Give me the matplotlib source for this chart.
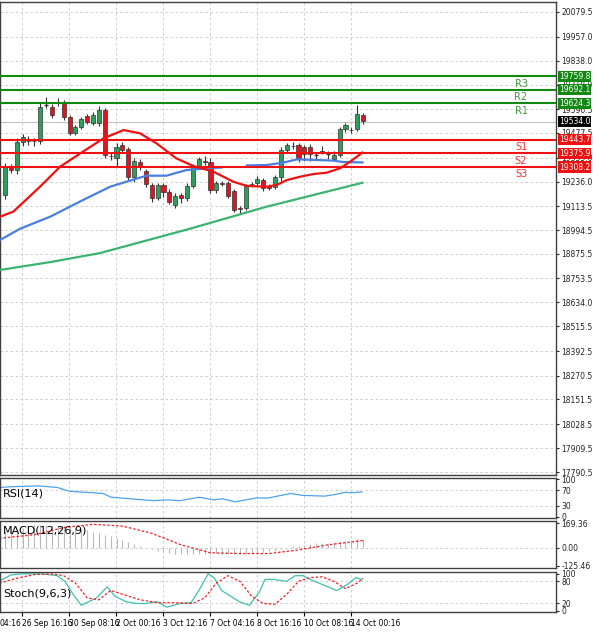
import matplotlib
matplotlib.use("Agg")
import matplotlib.pyplot as plt
import numpy as np

opens = [19168.9,19309.8,19293.2,19434.2,19437,19440,19437.6,19615,19608.4,19626,19628.3,19558.6,19479.0,19508.9,19562.0,19528.8,19528.8,19591.8,19364,19351.3,19417.7,19396.1,19260.1,19334.7,19289.9,19218.6,19152.2,19218.6,19185.4,19119.1,19168.9,19152.2,19213.6,19313.2,19336,19334.7,19193.7,19228,19226.9,19190.4,19104,19102.5,19225,19226.9,19243.5,19213.6,19210.3,19256.8,19392.8,19414,19417.7,19409.4,19409.4,19369,19386,19374,19346.3,19367.9,19495.6,19494,19495.6,19565.3]
closes = [19309.8,19293.2,19434.2,19459.1,19440,19436,19608.4,19617,19566.9,19630,19558.6,19479.0,19508.9,19545.4,19533.8,19566.9,19591.8,19367.9,19361,19409.4,19392.8,19260.1,19339.7,19309.8,19223.6,19152.2,19218.6,19185.4,19135.7,19163.9,19152.2,19213.6,19313.2,19346.3,19333,19193.7,19226.9,19225,19163.9,19094.2,19101,19213.6,19222,19246.8,19202.0,19202.0,19256.8,19392.8,19417.7,19411,19351.3,19372.9,19372.9,19367,19383,19372,19367.9,19495.6,19517.2,19491,19570.2,19537.1]
wick_up = [20,15,20,15,20,15,25,40,15,20,12,10,10,12,10,15,20,12,15,20,15,10,12,15,10,10,12,10,12,15,12,15,12,12,25,20,12,10,12,10,12,12,10,15,10,12,12,15,12,20,10,10,15,12,25,15,20,10,12,15,45,12]
wick_dn = [20,15,20,20,20,25,15,15,15,15,15,10,10,12,10,12,15,15,20,45,15,15,25,15,15,20,10,25,12,15,25,12,10,12,15,15,15,12,10,12,25,10,12,12,12,10,12,20,15,12,20,35,35,20,10,25,10,12,12,15,10,15]

red_x = [-0.85,1.42,5.96,9.4,13.3,16.8,20.2,23,25.8,29.2,32.1,35.5,38.9,41.2,44.6,46.3,48,50.3,52.5,54.8,57.1,58.8,60.9]
red_y = [19061,19086,19210,19310,19385,19451,19492,19476,19426,19351,19313,19285,19235,19214,19210,19219,19243,19260,19273,19280,19302,19335,19380]
blue_x = [-0.85,2.56,7.7,13.3,17.9,20.7,24.1,27.5,30.9,34.4,36.9]
blue_y = [18945,19001,19061,19144,19210,19235,19265,19265,19293,19302,19306]
blue2_x = [41.2,44.6,47.4,49.7,53.1,55.9,57.6,60.9]
blue2_y = [19316,19318,19330,19346,19343,19340,19333,19331]
green_x = [-0.85,7.7,16.2,31.5,44.6,60.9]
green_y = [18796,18835,18880,19001,19111,19230]

levels = [19759.8,19692.1,19624.3,19443.7,19375.9,19308.2]
level_names = ["R3","R2","R1","S1","S2","S3"]
last_price = 19534.0
yticks = [20079.5,19957.0,19838.0,19718.0,19596.5,19477.5,19355.0,19236.0,19113.5,18994.5,18875.5,18753.5,18634.0,18515.5,18392.5,18270.5,18151.5,18028.5,17909.5,17790.5]

rsi_x = [-0.85,1.1,5.7,8.9,10.9,16.7,18.1,21.3,25.2,27.8,29.8,33.1,35.6,37,39.2,42.8,44.8,47.4,48.7,50.6,54.5,56.5,57.8,59.1,60.8]
rsi_y = [78,80,82,78,68,62,52,48,43,45,43,52,45,48,40,50,50,58,62,57,55,60,65,64,66]

macd_hist = [110,120,130,140,150,155,160,160,158,155,150,145,140,130,120,110,100,90,80,70,55,40,25,10,0,-10,-20,-28,-35,-40,-42,-44,-45,-45,-44,-40,-38,-40,-42,-45,-46,-44,-40,-35,-30,-25,-20,-10,0,10,15,20,25,30,32,35,38,45,50,55,60,62]
sig_x = [-1,5,10,15,20,25,30,35,40,45,50,55,61]
sig_y = [65,90,140,162,150,100,20,-35,-40,-40,-15,20,50]

st_x = [-1,1,3,6.3,8.9,10.2,11.6,13,15.6,17.4,18.7,20.6,22.4,24,25.9,27.6,29.8,31.7,33.2,34.6,35.6,36.9,39.9,41.6,43.3,44.3,45.8,48,49.4,50.8,52,55,56.5,58.2,59.8,60.8]
st_k = [80,97,100,100,95,80,45,15,35,65,40,25,20,20,25,10,20,22,60,100,90,55,25,15,50,85,85,80,95,95,85,65,55,70,90,85]
st_dx = [-1,2,5,8,10,12,14,16,18,20,23,26,29,32,34,36,38,40,42,44,46,48,50,52,54,56,58,60,61]
st_d = [75,88,98,100,95,75,35,30,55,45,30,22,22,20,35,75,95,80,40,20,18,45,80,90,92,80,60,75,88]

xtick_px = [22,69,116,163,210,257,304,351]
xtick_labels = ["26 Sep 16:16","30 Sep 08:16","2 Oct 00:16","3 Oct 12:16","7 Oct 04:16","8 Oct 16:16","10 Oct 08:16","14 Oct 00:16"]

W, H = 600, 633
fig = plt.figure(figsize=(6, 6.33), dpi=100)
fig.patch.set_facecolor("white")
RIGHT = 556
def ax_at(top, bot):
    return fig.add_axes([0, 1 - bot / H, RIGHT / W, (bot - top) / H])

xl = (-5 / 5.87, (RIGHT - 5) / 5.87)
px2idx = lambda p: (p - 5) / 5.87
grid_kw = dict(color="#c8c8c8", ls=(0, (3, 3)), lw=0.6)

def style(ax):
    ax.set_xlim(*xl)
    for s in ax.spines.values():
        s.set_color("#404040"); s.set_linewidth(1.0)
    ax.yaxis.tick_right()
    ax.tick_params(axis="y", labelsize=5.5, length=2, pad=2, colors="#222")
    ax.tick_params(axis="x", length=0, labelbottom=False)
    for p in xtick_px:
        ax.axvline(px2idx(p), **grid_kw, zorder=0)

ax = ax_at(2, 475)
style(ax)
ppx = 4.976
ax.set_ylim(20079.5 - 463 * ppx, 20079.5 + 10 * ppx)
ax.set_yticks(yticks)
ax.set_yticklabels([f"{v:.1f}" for v in yticks])
for v in yticks:
    ax.axhline(v, **grid_kw, zorder=0)

for i, (o, c) in enumerate(zip(opens, closes)):
    hi = max(o, c) + wick_up[i]; lo = min(o, c) - wick_dn[i]
    ax.vlines(i, lo, hi, color="#333", lw=0.8, zorder=3)
    col = "#2e9e5b" if c >= o else "#e0141e"
    b = abs(c - o)
    if b < 3:
        ax.hlines(o, i - 0.35, i + 0.35, color="#333", lw=1, zorder=4)
    else:
        ax.bar(i, b, bottom=min(o, c), width=0.7, color=col, edgecolor="#333", lw=0.5, zorder=4)

ax.plot(green_x, green_y, color="#3cb371", lw=1.6, zorder=5)
ax.plot(blue_x, blue_y, color="#4a7fe0", lw=1.6, zorder=5)
ax.plot(blue2_x, blue2_y, color="#4a7fe0", lw=1.6, zorder=5)
ax.plot(red_x, red_y, color="#ee1111", lw=1.6, zorder=6)

for v, n in zip(levels, level_names):
    col = "#118811" if n.startswith("R") else "#ee1111"
    ax.axhline(v, color=col, lw=1.5, zorder=7)
    ax.text(px2idx(521), v - 37, n, color=("#3d9a3d" if n.startswith("R") else "#ee3333"),
            fontsize=7, ha="center", va="center", zorder=8)
    ax.text(1.005, v, f"{v:.1f}", transform=ax.get_yaxis_transform(), fontsize=5.5, color="white",
            va="center", ha="left", bbox=dict(boxstyle="square,pad=0.15", fc=col, ec="none"), zorder=9, clip_on=False)
ax.axhline(last_price, color="#c0c0c0", lw=0.8, zorder=2)
ax.text(1.005, last_price, f"{last_price:.1f}", transform=ax.get_yaxis_transform(), fontsize=5.5, color="white",
        va="center", ha="left", bbox=dict(boxstyle="square,pad=0.15", fc="black", ec="none"), zorder=9, clip_on=False)

# RSI
ar = ax_at(478, 518)
style(ar)
ar.set_ylim(-3, 103)
ar.set_yticks([0, 30, 70, 100])
for v in [30, 70]:
    ar.axhline(v, **grid_kw)
ar.plot(rsi_x, rsi_y, color="#4da3f0", lw=0.9)
ar.text(0.005, 0.62, "RSI(14)", transform=ar.transAxes, fontsize=8, va="center")

# MACD
am = ax_at(521, 568)
style(am)
am.set_ylim(-140, 185)
am.set_yticks([-125.46, 0, 169.36])
am.set_yticklabels(["-125.46", "0.00", "169.36"])
am.axhline(0, **grid_kw)
am.vlines(np.arange(len(macd_hist)), 0, macd_hist, color="#b8b8b8", lw=0.8)
am.plot(sig_x, sig_y, color="#ee2222", lw=0.9, ls=(0, (2, 1.5)))
am.text(0.005, 0.8, "MACD(12,26,9)", transform=am.transAxes, fontsize=8, va="center")

# Stoch
ast = ax_at(572, 612)
style(ast)
ast.set_ylim(-3, 105)
ast.set_yticks([0, 20, 80, 100])
for v in [20, 80]:
    ast.axhline(v, **grid_kw)
ast.plot(st_x, st_k, color="#40c0b0", lw=0.9)
ast.plot(st_dx, st_d, color="#ee2222", lw=0.9, ls=(0, (2, 1.5)))
ast.text(0.005, 0.45, "Stoch(9,6,3)", transform=ast.transAxes, fontsize=8, va="center")
ast.set_xticks([px2idx(p) for p in xtick_px])
ast.set_xticklabels(xtick_labels, ha="left")
ast.tick_params(axis="x", labelbottom=True, labelsize=5.5, length=3, pad=2)
fig.text(0.0, 1 - 623 / H, "04:16", fontsize=5.5, va="center")

fig.savefig("out.png", dpi=100)
